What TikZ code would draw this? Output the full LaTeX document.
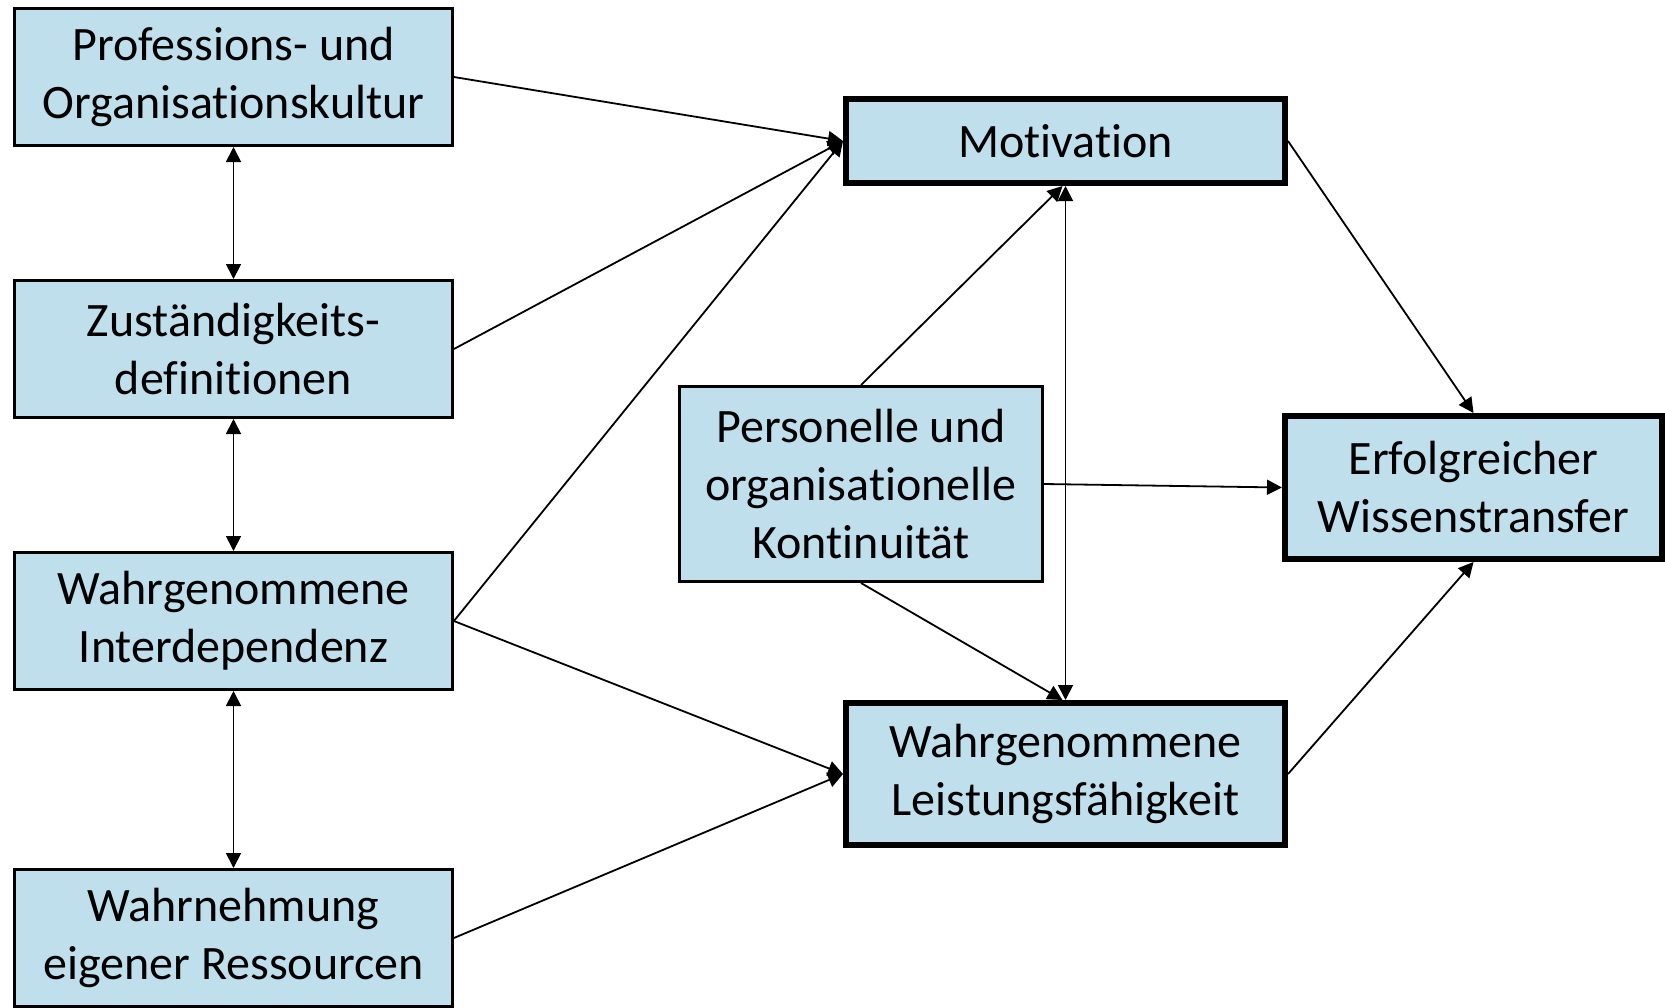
\documentclass[tikz,border=0pt]{standalone}
\usepackage{fontspec}
\setmainfont[Ligatures={NoCommon}]{Carlito}
\usetikzlibrary{arrows.meta}
\definecolor{boxfill}{RGB}{190,223,235}
\begin{document}
\begin{tikzpicture}[x=0.5pt,y=-0.5pt,
  box/.style={draw=black,fill=boxfill,line width=1.4pt,align=center,inner sep=0pt,
    font=\fontsize{24}{29}\selectfont},
  thick box/.style={box,line width=3.2pt},
  conn/.style={line width=0.9pt,-{Triangle[length=7.5pt,width=7.5pt]}},
  dconn/.style={line width=0.9pt,{Triangle[length=7.5pt,width=7.5pt]}-{Triangle[length=7.5pt,width=7.5pt]}}]
\useasboundingbox (0,0) rectangle (1665,1007);
\fill[white] (0,0) rectangle (1665,1007);
\node[box,minimum width=219pt,minimum height=68.6pt] (pk) at (233.5,77) {Professions- und\\Organisationskultur};
\node[box,minimum width=219pt,minimum height=68.6pt] (zd) at (233.5,349) {Zuständigkeits-\\definitionen};
\node[box,minimum width=219pt,minimum height=68.6pt] (wi) at (233.5,621) {Wahrgenommene\\Interdependenz};
\node[box,minimum width=219pt,minimum height=68.6pt] (we) at (233.5,938) {Wahrnehmung\\eigener Ressourcen};
\node[thick box,minimum width=219.3pt,minimum height=41.8pt] (mo) at (1065.5,141) {Motivation};
\node[thick box,minimum width=219.3pt,minimum height=70.8pt] (wl) at (1065.5,774) {Wahrgenommene\\Leistungsfähigkeit};
\node[thick box,minimum width=188.3pt,minimum height=71.3pt] (ew) at (1473.5,487.5) {Erfolgreicher\\Wissenstransfer};
\node[box,minimum width=181.6pt,minimum height=97.6pt] (pc) at (861,484) {Personelle und\\organisationelle\\Kontinuität};
\draw[dconn] (pk.south) -- (zd.north);
\draw[dconn] (zd.south) -- (wi.north);
\draw[dconn] (wi.south) -- (we.north);
\draw[conn] (pk.east) -- (mo.west);
\draw[conn] (zd.east) -- (mo.west);
\draw[conn] (wi.east) -- (mo.west);
\draw[conn] (wi.east) -- (wl.west);
\draw[conn] (we.east) -- (wl.west);
\draw[conn] (pc.north) -- ([xshift=-1.5pt]mo.south);
\draw[dconn] (mo.south) -- (wl.north);
\draw[conn] (pc.south) -- ([xshift=-1.5pt]wl.north);
\draw[conn] (pc.east) -- (ew.west);
\draw[conn] (mo.east) -- (ew.north);
\draw[conn] (wl.east) -- (ew.south);
\end{tikzpicture}
\end{document}
